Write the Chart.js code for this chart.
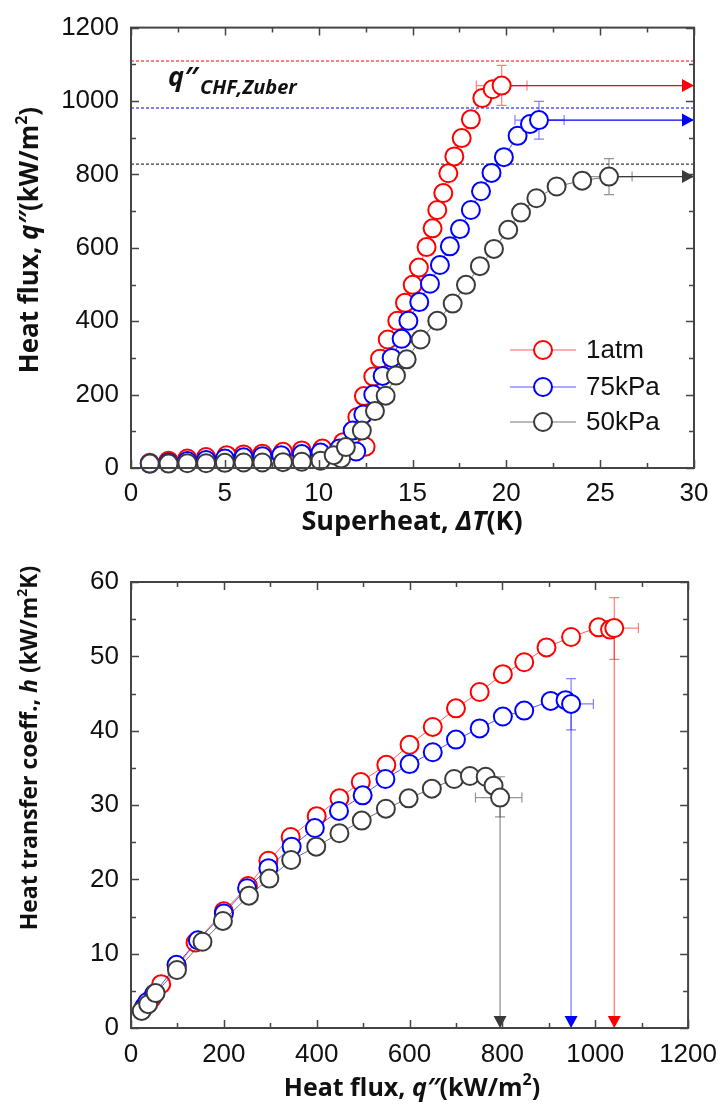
<!DOCTYPE html>
<html>
<head>
<meta charset="utf-8">
<script src="https://cdn.jsdelivr.net/npm/chart.js@4.4.1/dist/chart.umd.min.js"></script>
<style>
html,body{margin:0;padding:0;background:#fff;}
#wrap{position:relative;width:728px;height:1108px;background:#fff;}
#c1{position:absolute;left:0;top:0;width:728px;height:540px;}
#c2{position:absolute;left:0;top:540px;width:728px;height:568px;}
</style>
</head>
<body>
<div id="wrap">
<canvas id="c1" width="728" height="540"></canvas>
<canvas id="c2" width="728" height="568"></canvas>
</div>
<script>
// ---------------- DATA ----------------
const seriesNames = ['1atm', '75kPa', '50kPa'];

// Top chart: superheat dT (K) vs heat flux q (kW/m2)
const dT_1atm = [1.0, 2.0, 3.0, 4.0, 5.1, 6.0, 7.0, 8.1, 9.1, 10.2, 12.5, 11.3, 12.06, 12.41, 12.91, 13.27, 13.68, 14.19, 14.6, 15.01, 15.34, 15.75, 16.07, 16.32, 16.64, 16.91, 17.23, 17.62, 18.11, 18.72, 19.27, 19.75];
const q_1atm  = [14, 20, 26, 30, 35, 37, 39, 44, 48, 53, 58, 70, 139, 196, 249, 298, 350, 401, 450, 499, 546, 602, 653, 703, 749, 803, 849, 899, 950, 1008, 1032, 1042];

const dT_75kPa = [1.0, 2.0, 3.0, 4.0, 5.0, 6.0, 7.0, 8.0, 9.1, 10.1, 12.0, 11.1, 11.81, 12.38, 12.91, 13.41, 13.89, 14.42, 14.78, 15.36, 15.93, 16.46, 16.99, 17.53, 18.11, 18.65, 19.21, 19.87, 20.6, 21.26, 21.74];
const q_75kPa  = [12, 15, 19, 22, 26, 29, 32, 35, 38, 42, 45, 53, 102, 146, 200, 251, 300, 352, 401, 452, 502, 553, 604, 651, 703, 754, 804, 847, 905, 937, 948];

const dT_50kPa = [1.0, 2.0, 3.0, 4.0, 5.0, 6.0, 7.0, 8.1, 9.1, 10.1, 11.2, 10.8, 11.45, 12.3, 13.0, 13.57, 14.12, 14.69, 15.43, 16.32, 17.14, 17.85, 18.59, 19.34, 20.1, 20.78, 21.6, 22.68, 24.04, 25.47];
const q_50kPa  = [12, 12, 13, 13, 14, 15, 15, 16, 17, 20, 26, 35, 57, 102, 155, 197, 252, 296, 350, 401, 448, 499, 550, 597, 649, 696, 735, 767, 783, 794];

// Zuber CHF predictions (kW/m2)
const zuberCHF = [1109, 981, 828];

// Error bars on the CHF points (top chart)
const topErrDT = [[18.4, 21.1], [20.46, 23.08], [24.3, 26.7]];
const topErrQ  = [[988, 1097], [896, 999], [745, 843]];

// Bottom chart: heat flux q (kW/m2) vs heat transfer coefficient h (kW/m2K)
const hq_1atm = [30, 45, 65, 99, 139, 200, 252, 296, 344, 400, 449, 495, 550, 600, 650, 700, 751, 801, 847, 895, 948, 1007, 1032, 1041];
const h_1atm  = [3.0, 4.0, 5.9, 8.2, 11.5, 15.7, 19.1, 22.5, 25.7, 28.5, 30.9, 33.1, 35.4, 38.1, 40.5, 43.0, 45.2, 47.6, 49.2, 51.2, 52.6, 53.9, 53.6, 53.8];

const hq_75kPa = [28, 35, 50, 98, 144, 200, 250, 296, 346, 396, 448, 499, 548, 600, 650, 700, 751, 801, 847, 904, 936, 948];
const h_75kPa  = [2.8, 3.5, 4.6, 8.5, 11.8, 15.4, 18.8, 21.5, 24.4, 26.9, 29.2, 31.3, 33.5, 35.5, 37.1, 38.8, 40.3, 41.9, 42.7, 44.0, 44.1, 43.6];

const hq_50kPa = [23, 37, 53, 99, 154, 198, 254, 298, 345, 399, 449, 497, 549, 598, 648, 696, 730, 764, 781, 795];
const h_50kPa  = [2.3, 3.2, 4.7, 7.8, 11.6, 14.4, 17.8, 20.1, 22.6, 24.4, 26.2, 27.9, 29.5, 30.9, 32.2, 33.5, 33.9, 33.8, 32.6, 31.0];

const botErrQ = [[988, 1093], [900, 996], [742, 842]];
const botErrH = [[49.6, 57.9], [40.1, 47.0], [28.4, 33.8]];

// Axis ticks
const topXTicks = [0, 5, 10, 15, 20, 25, 30];
const topYTicks = [0, 200, 400, 600, 800, 1000, 1200];
const botXTicks = [0, 200, 400, 600, 800, 1000, 1200];
const botYTicks = [0, 10, 20, 30, 40, 50, 60];

// ---------------- STYLE ----------------
const markColors = ['#ff0000', '#0000ff', '#3a3a3a'];
const lineColors = ['rgba(255,40,40,0.75)', 'rgba(30,30,255,0.75)', 'rgba(70,70,70,0.75)'];
const faintColors = ['rgba(255,0,0,0.5)', 'rgba(0,0,255,0.5)', 'rgba(60,60,60,0.55)'];
const TICKFONT = '"Liberation Sans", Arial, sans-serif';
const TITLEFONT = '"Open Sans", "DejaVu Sans", sans-serif';
const AXIS = '#444';

function pts(xs, ys) { return xs.map((x, i) => ({ x: x, y: ys[i] })); }

function series(xs, ys, i) {
  return {
    label: seriesNames[i], data: pts(xs, ys), showLine: true,
    borderColor: lineColors[i], borderWidth: 1,
    pointRadius: 9, pointHoverRadius: 9, pointBorderWidth: 2,
    pointBorderColor: markColors[i], pointBackgroundColor: '#ffffff',
    clip: false, order: 3 - i
  };
}

function lineDs(a, b, color, width, dash, extra) {
  return Object.assign({
    data: [a, b], showLine: true, borderColor: color, borderWidth: width,
    borderDash: dash || [], pointRadius: 0, pointHoverRadius: 0, clip: false, order: 10
  }, extra || {});
}

function richText(ctx, segs, cx, cy, rot) {
  ctx.save();
  ctx.translate(cx, cy);
  if (rot) ctx.rotate(rot);
  ctx.textBaseline = 'alphabetic';
  ctx.textAlign = 'left';
  let w = 0;
  for (const s of segs) { ctx.font = s.f; w += ctx.measureText(s.t).width; }
  let x = -w / 2;
  ctx.fillStyle = '#111';
  for (const s of segs) { ctx.font = s.f; ctx.fillText(s.t, x, s.dy || 0); x += ctx.measureText(s.t).width; }
  ctx.restore();
}

function makeFramePlugin(cfg) {
  return {
    id: 'frame' + cfg.name,
    beforeDatasetsDraw(chart) {
      const ctx = chart.ctx, xs = chart.scales.x, ys = chart.scales.y;
      ctx.save();
      ctx.lineWidth = 1.2;
      cfg.errX.forEach((r, i) => {
        const ds = chart.data.datasets[i];
        const last = ds.data[ds.data.length - 1];
        const px = xs.getPixelForValue(last.x), py = ys.getPixelForValue(last.y);
        const ex = cfg.errX[i], ey = cfg.errY[i];
        ctx.strokeStyle = faintColors[i];
        const x0 = xs.getPixelForValue(ex[0]), x1 = xs.getPixelForValue(ex[1]);
        const y0 = ys.getPixelForValue(ey[0]), y1 = ys.getPixelForValue(ey[1]);
        ctx.beginPath();
        ctx.moveTo(x0, py); ctx.lineTo(x1, py);
        ctx.moveTo(x0, py - 5); ctx.lineTo(x0, py + 5);
        ctx.moveTo(x1, py - 5); ctx.lineTo(x1, py + 5);
        ctx.moveTo(px, y0); ctx.lineTo(px, y1);
        ctx.moveTo(px - 5, y0); ctx.lineTo(px + 5, y0);
        ctx.moveTo(px - 5, y1); ctx.lineTo(px + 5, y1);
        ctx.stroke();
      });
      ctx.restore();
    },
    afterDatasetsDraw(chart) {
      const ctx = chart.ctx;
      ctx.save();
      chart.data.datasets.forEach((ds, di) => {
        if (!ds.arrow) return;
        const meta = chart.getDatasetMeta(di);
        const p = meta.data[meta.data.length - 1];
        ctx.fillStyle = ds.arrowColor;
        ctx.beginPath();
        if (ds.arrow === 'right') {
          ctx.moveTo(p.x, p.y); ctx.lineTo(p.x - 12, p.y - 6.5); ctx.lineTo(p.x - 12, p.y + 6.5);
        } else {
          ctx.moveTo(p.x, p.y); ctx.lineTo(p.x - 6.5, p.y - 12); ctx.lineTo(p.x + 6.5, p.y - 12);
        }
        ctx.closePath(); ctx.fill();
      });
      ctx.restore();
    },
    afterDraw(chart) {
      const ctx = chart.ctx, a = chart.chartArea, xs = chart.scales.x, ys = chart.scales.y;
      ctx.save();
      ctx.strokeStyle = AXIS;
      ctx.lineWidth = 1.5;
      ctx.beginPath();
      const xt = cfg.xTicks, yt = cfg.yTicks;
      const xstep = (xt[1] - xt[0]) / 2, ystep = (yt[1] - yt[0]) / 2;
      for (let v = xt[0]; v <= xt[xt.length - 1] + 1e-9; v += xstep) {
        const major = Math.abs(((v - xt[0]) / (2 * xstep)) - Math.round((v - xt[0]) / (2 * xstep))) < 1e-6;
        const L = major ? 8 : 5;
        const px = Math.round(xs.getPixelForValue(v)) + 0.5;
        ctx.moveTo(px, a.bottom); ctx.lineTo(px, a.bottom - L);
        ctx.moveTo(px, a.top); ctx.lineTo(px, a.top + L);
      }
      for (let v = yt[0]; v <= yt[yt.length - 1] + 1e-9; v += ystep) {
        const major = Math.abs(((v - yt[0]) / (2 * ystep)) - Math.round((v - yt[0]) / (2 * ystep))) < 1e-6;
        const L = major ? 8 : 5;
        const py = Math.round(ys.getPixelForValue(v)) + 0.5;
        ctx.moveTo(a.left, py); ctx.lineTo(a.left + L, py);
        ctx.moveTo(a.right, py); ctx.lineTo(a.right - L, py);
      }
      ctx.stroke();
      ctx.lineWidth = 2;
      ctx.strokeRect(a.left, a.top, a.right - a.left, a.bottom - a.top);
      ctx.restore();
      cfg.titles.forEach(t => richText(ctx, t.segs, t.x, t.y, t.rot));
      if (cfg.extra) cfg.extra(chart);
    }
  };
}

const B = (s) => 'bold ' + s + 'px ' + TITLEFONT;
const BI = (s) => 'italic bold ' + s + 'px ' + TITLEFONT;

function fluxTitle(ts) {
  return [{ t: 'Heat flux, ', f: B(ts) }, { t: 'q\u2033', f: BI(ts) }, { t: '(kW/m', f: B(ts) }, { t: '2', f: B(Math.round(ts * 0.62)), dy: -Math.round(ts * 0.42) }, { t: ')', f: B(ts) }];
}

function scaleOpts(ticks, axis, size, pad) {
  return {
    type: 'linear', min: ticks[0], max: ticks[ticks.length - 1],
    ticks: { stepSize: ticks[1] - ticks[0], font: { family: TICKFONT, size: 26 }, color: '#111', padding: pad, maxRotation: 0, autoSkip: false,
      callback: (v) => String(v) },
    grid: { display: false, drawTicks: false },
    border: { display: false },
    afterFit: axis === 'x' ? (s) => { s.height = size; } : (s) => { s.width = size; }
  };
}

// ---------------- TOP CHART ----------------
(function () {
  const sets = [series(dT_1atm, q_1atm, 0), series(dT_75kPa, q_75kPa, 1), series(dT_50kPa, q_50kPa, 2)];
  const xMax = topXTicks[topXTicks.length - 1];
  const xMin = topXTicks[0];
  const lastPts = [[dT_1atm, q_1atm], [dT_75kPa, q_75kPa], [dT_50kPa, q_50kPa]];
  lastPts.forEach((s, i) => {
    const lx = s[0][s[0].length - 1], ly = s[1][s[1].length - 1];
    sets.push(lineDs({ x: lx, y: ly }, { x: xMax, y: ly }, markColors[i], 1.3, null, { arrow: 'right', arrowColor: markColors[i] }));
  });
  zuberCHF.forEach((v, i) => {
    sets.push(lineDs({ x: xMin, y: v }, { x: xMax, y: v }, markColors[i], 1.1, [3, 2]));
  });

  const legendDraw = (chart) => {
    const ctx = chart.ctx;
    ctx.save();
    const rows = [350, 387, 422];
    seriesNames.forEach((n, i) => {
      const y = rows[i];
      ctx.strokeStyle = lineColors[i]; ctx.lineWidth = 1;
      ctx.beginPath(); ctx.moveTo(510, y); ctx.lineTo(576, y); ctx.stroke();
      ctx.beginPath(); ctx.arc(543, y, 9, 0, Math.PI * 2);
      ctx.fillStyle = '#fff'; ctx.fill();
      ctx.strokeStyle = markColors[i]; ctx.lineWidth = 2; ctx.stroke();
      ctx.fillStyle = '#111'; ctx.font = '26px ' + TICKFONT;
      ctx.textBaseline = 'middle'; ctx.textAlign = 'left';
      ctx.fillText(n, 586, y + 1);
    });
    ctx.restore();
    // annotation
    ctx.save();
    ctx.fillStyle = '#111'; ctx.textBaseline = 'alphabetic'; ctx.textAlign = 'left';
    ctx.font = BI(27);
    ctx.fillText('q\u2033', 168, 86);
    const w = ctx.measureText('q\u2033').width;
    ctx.font = BI(20);
    ctx.fillText('CHF,Zuber', 168 + w + 2, 94);
    ctx.restore();
  };

  new Chart(document.getElementById('c1'), {
    type: 'scatter',
    data: { datasets: sets },
    options: {
      responsive: false, animation: false, events: [],
      layout: { padding: { left: 0, right: 34, top: 20, bottom: 0 } },
      plugins: { legend: { display: false }, tooltip: { enabled: false } },
      scales: {
        x: scaleOpts(topXTicks, 'x', 72, 10),
        y: scaleOpts(topYTicks, 'y', 131, 12)
      }
    },
    plugins: [makeFramePlugin({
      name: 'top', xTicks: topXTicks, yTicks: topYTicks, errX: topErrDT, errY: topErrQ,
      titles: [
        { segs: [{ t: 'Superheat, ', f: B(27) }, { t: '\u0394T', f: BI(27) }, { t: '(K)', f: B(27) }], x: 412, y: 530 },
        { segs: fluxTitle(26), x: 38, y: 240, rot: -Math.PI / 2 }
      ],
      extra: legendDraw
    })]
  });
})();

// ---------------- BOTTOM CHART ----------------
(function () {
  const sets = [series(hq_1atm, h_1atm, 0), series(hq_75kPa, h_75kPa, 1), series(hq_50kPa, h_50kPa, 2)];
  const yMin = botYTicks[0];
  const lastPts = [[hq_1atm, h_1atm], [hq_75kPa, h_75kPa], [hq_50kPa, h_50kPa]];
  lastPts.forEach((s, i) => {
    const lx = s[0][s[0].length - 1], ly = s[1][s[1].length - 1];
    sets.push(lineDs({ x: lx, y: ly }, { x: lx, y: yMin }, faintColors[i], 1.3, null, { arrow: 'down', arrowColor: markColors[i] }));
  });

  new Chart(document.getElementById('c2'), {
    type: 'scatter',
    data: { datasets: sets },
    options: {
      responsive: false, animation: false, events: [],
      layout: { padding: { left: 0, right: 34, top: 42, bottom: 0 } },
      plugins: { legend: { display: false }, tooltip: { enabled: false } },
      scales: {
        x: scaleOpts(botXTicks, 'x', 80, 11),
        y: scaleOpts(botYTicks, 'y', 131, 12)
      }
    },
    plugins: [makeFramePlugin({
      name: 'bot', xTicks: botXTicks, yTicks: botYTicks, errX: botErrQ, errY: botErrH,
      titles: [
        { segs: fluxTitle(25), x: 412, y: 556 },
        { segs: [{ t: 'Heat transfer coeff., ', f: B(23) }, { t: 'h', f: BI(23) }, { t: ' (kW/m', f: B(23) }, { t: '2', f: B(14), dy: -10 }, { t: 'K)', f: B(23) }], x: 37, y: 208, rot: -Math.PI / 2 }
      ]
    })]
  });
})();
</script>
</body>
</html>
